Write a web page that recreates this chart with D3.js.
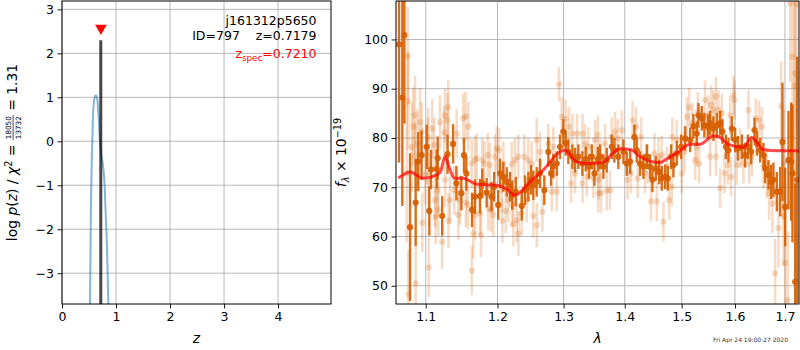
<!DOCTYPE html>
<html>
<head>
<meta charset="utf-8">
<script src="https://cdn.jsdelivr.net/npm/d3@7"></script>
<style>
  body { margin: 0; background: #fff; }
  svg { font-family: "DejaVu Sans", sans-serif; }
</style>
</head>
<body>
<svg id="fig" width="800" height="350"></svg>
<script>
// ---------------- data ----------------
// redshift probability curve: z and log p(z)
const pzZ    = [0.505, 0.515, 0.525, 0.537, 0.547, 0.556, 0.565, 0.574, 0.590, 0.610, 0.630, 0.650, 0.665, 0.680, 0.695, 0.710, 0.730, 0.750, 0.770, 0.785, 0.800, 0.815, 0.830, 0.845, 0.860, 0.870];
const pzLogP = [-5.0, -4.0, -2.9, -1.33, -0.65, -0.2, 0.2, 0.56, 0.88, 1.02, 1.04, 0.98, 0.80, 0.50, 0.15, -0.12, -0.32, -0.47, -0.68, -0.92, -1.35, -1.85, -2.3, -3.0, -3.8, -4.3];
const zBest = 0.7179, zBestTop = 2.30;
const zSpec = 0.7210, zSpecMarkerY = 2.57;
const zDomain = [0, 4.98], logpDomain = [-3.70, 3.19];
const zTicks = [0, 1, 2, 3, 4];
const logpTicks = [-3, -2, -1, 0, 1, 2, 3];

// binned spectrum: [wavelength (micron), flux, error]
const binnedSpec = [
  [1.0650, 99.0, 24], [1.0693, 88.2, 22], [1.0719, 100.9, 18], [1.0793, 61.9, 15], [1.0867, 66.9, 8.8],
  [1.0901, 75.2, 6], [1.0945, 76.5, 5], [1.1013, 78.2, 4.5], [1.1048, 65.2, 5], [1.1071, 73.6, 4],
  [1.1148, 73.7, 4], [1.1161, 75.9, 4.4], [1.1222, 64.2, 4], [1.1295, 76.7, 4], [1.1371, 78.8, 4],
  [1.1417, 70.8, 3.5], [1.1486, 68.8, 3.5], [1.1522, 76.5, 3.5], [1.1555, 72.8, 3.5], [1.1635, 65.4, 3.5],
  [1.1677, 68.1, 3.5], [1.1748, 68.2, 3.5], [1.1781, 70.8, 3], [1.1843, 68.9, 3], [1.1914, 68.1, 3],
  [1.1952, 70.1, 3], [1.2010, 66.4, 3], [1.2036, 72.8, 3], [1.2085, 72.1, 3], [1.2135, 71.1, 3],
  [1.2183, 70.1, 3], [1.2217, 68.4, 3], [1.2268, 69.1, 3], [1.2358, 66.2, 3], [1.2406, 69.4, 3],
  [1.2457, 70.1, 3], [1.2497, 71.5, 3], [1.2532, 70.4, 3], [1.2583, 71.1, 3], [1.2634, 72.8, 3],
  [1.2700, 69.4, 3], [1.2762, 77.2, 3], [1.2804, 72.8, 2.5], [1.2840, 74.3, 2.5], [1.2893, 74.8, 2.5],
  [1.2944, 78.2, 2.5], [1.2996, 81.3, 2.5], [1.3034, 78.9, 2.5], [1.3075, 77.2, 2.5], [1.3139, 76.2, 2.5],
  [1.3182, 75.5, 2.5], [1.3235, 76.2, 2.5], [1.3300, 74.8, 2.5], [1.3354, 75.7, 2.5], [1.3408, 74.2, 2.5],
  [1.3452, 76.2, 2.5], [1.3495, 72.8, 2.5], [1.3550, 75.7, 2.5], [1.3587, 76.2, 2.5], [1.3642, 74.2, 2.5],
  [1.3698, 75.5, 2.5], [1.3781, 78.2, 2.5], [1.3825, 77.5, 2.5], [1.3892, 76.2, 2.5], [1.3977, 77.2, 2.5],
  [1.4034, 74.8, 2.5], [1.4091, 75.2, 2.5], [1.4164, 80.2, 2.5], [1.4205, 77.5, 2.5], [1.4263, 74.8, 2.5],
  [1.4320, 74.2, 2.5], [1.4379, 76.2, 2.5], [1.4437, 74.2, 2.5], [1.4477, 71.5, 2.5], [1.4537, 73.8, 2.5],
  [1.4595, 73.1, 2.5], [1.4643, 71.8, 2.5], [1.4702, 72.1, 2.5], [1.4750, 71.8, 2.5], [1.4809, 76.2, 2.5],
  [1.4851, 74.5, 2.5], [1.4912, 76.9, 2.5], [1.4990, 78.2, 2.5], [1.5063, 79.9, 2.5], [1.5154, 79.6, 2.5],
  [1.5215, 82.4, 2.5], [1.5277, 80.9, 2.5], [1.5307, 84.6, 2.5], [1.5370, 84.0, 2.5], [1.5418, 82.6, 2.5],
  [1.5482, 82.3, 2.5], [1.5526, 83.0, 2.5], [1.5588, 81.9, 2.5], [1.5652, 82.6, 2.5], [1.5716, 83.0, 2.5],
  [1.5760, 81.3, 2.5], [1.5825, 78.2, 2.5], [1.5875, 77.5, 2.5], [1.5940, 81.9, 2.5], [1.6004, 79.6, 2.5],
  [1.6057, 77.9, 2.5], [1.6135, 78.2, 2.5], [1.6199, 76.5, 2.5], [1.6253, 78.2, 2.5], [1.6318, 77.2, 2.5],
  [1.6383, 81.6, 2.5], [1.6431, 78.9, 2.5], [1.6496, 77.5, 2.5], [1.6562, 76.5, 2.5], [1.6596, 73.8, 3],
  [1.6663, 72.5, 3], [1.6717, 71.1, 3.5], [1.6764, 71.5, 3.5], [1.6833, 69.1, 4], [1.6901, 69.1, 5],
  [1.6948, 79.2, 12], [1.7003, 66.0, 8], [1.7072, 75.5, 10], [1.7128, 75.2, 12], [1.7155, 72.8, 14],
  [1.7211, 50.8, 20], [1.7253, 71.5, 25]
];

// unbinned spectrum: [wavelength (micron), flux, error]
const rawSpec = [
  [1.0750, 72.8, 14], [1.0763, 96.6, 10], [1.0768, 87.5, 10], [1.0771, 48.3, 9], [1.0815, 78.2, 9],
  [1.0836, 82.3, 8], [1.0858, 84.6, 8], [1.0860, 76.2, 7], [1.0867, 50.5, 8], [1.0893, 78.8, 7],
  [1.0924, 83.2, 7], [1.0946, 81.3, 6], [1.0954, 62.8, 6], [1.0991, 72.5, 6], [1.1026, 78.2, 6],
  [1.1034, 80.1, 6], [1.1038, 71.1, 6], [1.1041, 53.7, 6], [1.1087, 81.9, 6], [1.1114, 78.6, 5.5],
  [1.1125, 67.4, 5.5], [1.1133, 64.0, 5.5], [1.1161, 69.4, 5.5], [1.1169, 65.5, 5.5], [1.1192, 83.2, 5.5],
  [1.1222, 58.9, 5.5], [1.1249, 81.1, 5.5], [1.1260, 84.6, 5.5], [1.1264, 71.5, 5.5], [1.1295, 83.6, 5.5],
  [1.1304, 86.2, 5.5], [1.1308, 63.2, 5.5], [1.1329, 67.4, 5], [1.1388, 69.4, 5], [1.1420, 80.9, 5],
  [1.1443, 64.4, 5], [1.1467, 67.4, 5], [1.1512, 84.0, 5], [1.1545, 84.4, 5], [1.1548, 66.9, 5],
  [1.1574, 66.4, 5], [1.1583, 82.3, 5], [1.1630, 74.8, 5], [1.1633, 53.1, 5], [1.1653, 60.6, 5],
  [1.1677, 75.5, 5], [1.1680, 64.4, 5], [1.1701, 75.9, 5], [1.1748, 64.7, 4.5], [1.1762, 60.3, 4.5],
  [1.1781, 75.5, 4.5], [1.1810, 74.8, 4.5], [1.1859, 76.5, 4.5], [1.1867, 65.7, 4.5], [1.1891, 74.5, 4.5],
  [1.1906, 65.4, 4.5], [1.1939, 64.4, 4.5], [1.1963, 76.2, 4.5], [1.1988, 77.9, 4.5], [1.2022, 77.5, 4.5],
  [1.2061, 69.4, 4.5], [1.2070, 63.2, 4.5], [1.2085, 74.8, 4.5], [1.2120, 65.2, 4.5], [1.2158, 67.4, 4.5],
  [1.2208, 74.7, 4.5], [1.2212, 66.4, 4.5], [1.2232, 62.5, 4.5], [1.2257, 75.5, 4.5], [1.2282, 63.3, 4.5],
  [1.2306, 76.2, 4.5], [1.2309, 60.6, 4.5], [1.2356, 64.7, 4.5], [1.2395, 76.2, 4.5], [1.2431, 67.4, 4.5],
  [1.2456, 75.5, 4.5], [1.2508, 74.8, 4.5], [1.2532, 64.2, 4.5], [1.2583, 79.6, 4.5], [1.2586, 62.3, 4.5],
  [1.2634, 77.2, 4], [1.2670, 65.0, 4], [1.2762, 78.9, 4], [1.2815, 69.1, 4], [1.2840, 78.2, 4],
  [1.2893, 69.1, 4], [1.2929, 90.9, 3.5], [1.2971, 84.3, 4], [1.3034, 83.8, 4], [1.3086, 82.3, 4],
  [1.3118, 70.8, 4], [1.3139, 80.9, 4], [1.3182, 72.8, 4], [1.3214, 80.9, 4], [1.3300, 80.9, 4],
  [1.3303, 70.8, 4], [1.3343, 78.8, 4], [1.3370, 72.1, 4], [1.3396, 78.2, 4], [1.3478, 71.8, 4],
  [1.3505, 79.6, 4], [1.3550, 80.6, 4], [1.3559, 68.8, 4], [1.3562, 71.5, 4], [1.3587, 75.9, 4],
  [1.3604, 68.8, 4], [1.3670, 78.9, 4], [1.3698, 69.3, 4], [1.3753, 69.4, 4], [1.3781, 80.2, 4],
  [1.3837, 81.3, 4], [1.3882, 79.9, 4], [1.3950, 81.6, 4], [1.4049, 71.5, 4], [1.4107, 72.8, 4],
  [1.4134, 83.6, 4], [1.4193, 82.3, 4], [1.4221, 71.8, 4], [1.4280, 80.2, 4], [1.4349, 72.8, 4],
  [1.4396, 74.8, 4], [1.4454, 67.1, 4], [1.4512, 76.9, 4], [1.4555, 67.1, 4], [1.4583, 76.2, 4],
  [1.4643, 76.5, 4], [1.4672, 63.0, 4], [1.4732, 74.2, 4], [1.4773, 67.4, 4], [1.4821, 70.1, 4],
  [1.4832, 80.2, 4], [1.4912, 79.6, 4], [1.5003, 72.8, 4], [1.5050, 77.2, 4], [1.5094, 84.3, 4],
  [1.5136, 86.2, 4], [1.5197, 83.1, 4], [1.5246, 75.5, 4], [1.5277, 78.2, 4], [1.5296, 85.3, 4],
  [1.5320, 74.8, 4], [1.5432, 87.7, 4], [1.5494, 84.6, 4], [1.5526, 76.2, 4], [1.5545, 86.7, 4],
  [1.5588, 85.7, 4], [1.5634, 88.4, 4], [1.5637, 76.2, 4], [1.5684, 85.7, 4], [1.5716, 69.8, 4],
  [1.5748, 85.0, 4], [1.5798, 72.8, 4], [1.5863, 74.5, 4], [1.5907, 84.6, 4], [1.5926, 72.1, 4],
  [1.5971, 88.7, 4], [1.5991, 87.7, 4], [1.6037, 74.5, 4], [1.6101, 77.9, 4], [1.6166, 74.8, 4],
  [1.6264, 85.7, 4], [1.6278, 74.8, 4], [1.6332, 76.2, 4], [1.6411, 84.0, 4], [1.6476, 83.6, 4],
  [1.6530, 82.3, 4], [1.6562, 74.2, 4.5], [1.6630, 72.8, 5], [1.6677, 68.8, 5.5], [1.6744, 66.7, 6],
  [1.6799, 52.5, 7], [1.6867, 61.7, 8], [1.6922, 86.5, 9], [1.6969, 64.0, 10], [1.6972, 74.8, 11],
  [1.7003, 54.6, 12], [1.7059, 47.1, 14], [1.7107, 107.3, 16], [1.7155, 96.5, 18], [1.7197, 90.7, 20],
  [1.7211, 93.1, 22], [1.7246, 107.2, 25]
];

// best-fit template: [wavelength (micron), flux]
const modelSpec = [
  [1.0640, 71.9], [1.0663, 72.1], [1.0793, 73.1], [1.0970, 71.8], [1.1148, 72.5], [1.1200, 73.2],
  [1.1260, 76.2], [1.1330, 73.5], [1.1390, 71.8], [1.1510, 71.8], [1.1700, 70.6], [1.1986, 70.4],
  [1.2134, 69.6], [1.2254, 68.4], [1.2482, 71.1], [1.2684, 73.5], [1.2944, 77.2], [1.3020, 77.5],
  [1.3208, 75.2], [1.3370, 74.8], [1.3640, 75.0], [1.3781, 76.7], [1.3922, 77.8], [1.4109, 77.6],
  [1.4253, 76.3], [1.4611, 75.0], [1.4711, 75.6], [1.4948, 77.2], [1.5151, 78.7], [1.5335, 78.7],
  [1.5585, 80.4], [1.5680, 80.3], [1.5872, 78.7], [1.6163, 78.1], [1.6328, 80.1], [1.6568, 77.6],
  [1.6850, 77.4], [1.7244, 77.4], [1.7300, 77.3]
];
const lamDomain = [1.0611, 1.7291], fluxDomain = [46.3, 107.8];
const lamTicks = [1.1, 1.2, 1.3, 1.4, 1.5, 1.6, 1.7];
const fluxTicks = [50, 60, 70, 80, 90, 100];

const objName = "j161312p5650";
const objLine = "ID=797    z=0.7179";
const zSpecText = "=0.7210";
const chi2Num = "18050", chi2Den = "13732", chi2Red = "1.31";
const stamp = "Fri Apr 24 19:00:27 2020";

// ---------------- drawing ----------------
const svg = d3.select("#fig");
const GRID = "#b0b0b0";
const ORANGE = "#d55e00";
const TICK_FS = 12.5, LABEL_FS = 13.9;

function styleAxis(g) {
  g.select(".domain").remove();
  g.selectAll(".tick line").attr("stroke", "#000").attr("stroke-width", 0.9);
  g.selectAll(".tick text").attr("fill", "#000").attr("font-size", TICK_FS)
    .attr("font-family", "DejaVu Sans, sans-serif");
}

function grid(g, xs, ys, xTicks, yTicks, box) {
  g.selectAll(".gx").data(xTicks).join("line").attr("class", "gx")
    .attr("x1", d => xs(d)).attr("x2", d => xs(d)).attr("y1", box.top).attr("y2", box.bottom)
    .attr("stroke", GRID).attr("stroke-width", 0.9);
  g.selectAll(".gy").data(yTicks).join("line").attr("class", "gy")
    .attr("y1", d => ys(d)).attr("y2", d => ys(d)).attr("x1", box.left).attr("x2", box.right)
    .attr("stroke", GRID).attr("stroke-width", 0.9);
}

// lays out a run of text pieces along a baseline; returns group and width
function mathRun(parent, pieces, fs, fill) {
  const g = parent.append("g");
  let x = 0;
  pieces.forEach(p => {
    if (p.frac) {
      const sfs = fs * 0.52;
      const a = g.append("text").attr("font-size", sfs).attr("fill", fill).text(p.frac[0]);
      const b = g.append("text").attr("font-size", sfs).attr("fill", fill).text(p.frac[1]);
      const w = Math.max(a.node().getComputedTextLength(), b.node().getComputedTextLength()) + 2;
      a.attr("x", x + w / 2).attr("text-anchor", "middle").attr("y", -5.8);
      b.attr("x", x + w / 2).attr("text-anchor", "middle").attr("y", 3.6);
      g.append("line").attr("x1", x).attr("x2", x + w).attr("y1", -3.9).attr("y2", -3.9)
        .attr("stroke", fill).attr("stroke-width", 0.7);
      x += w;
      return;
    }
    const t = g.append("text")
      .attr("x", x).attr("y", p.shift || 0)
      .attr("font-size", fs * (p.scale || 1))
      .attr("font-style", p.italic ? "italic" : "normal")
      .attr("fill", fill)
      .style("white-space", "pre")
      .text(p.t);
    x += t.node().getComputedTextLength();
  });
  return { g, width: x };
}

// ===== p(z) panel =====
const boxL = { left: 62, right: 331, top: 1, bottom: 304 };
const xZ = d3.scaleLinear().domain(zDomain).range([boxL.left, boxL.right]);
const yZ = d3.scaleLinear().domain(logpDomain).range([boxL.bottom, boxL.top]);

svg.append("clipPath").attr("id", "clipL").append("rect")
  .attr("x", boxL.left).attr("y", boxL.top)
  .attr("width", boxL.right - boxL.left).attr("height", boxL.bottom - boxL.top);

const gL = svg.append("g");
grid(gL.append("g"), xZ, yZ, zTicks, logpTicks, boxL);

const plotL = gL.append("g").attr("clip-path", "url(#clipL)");
plotL.append("path")
  .datum(d3.zip(pzZ, pzLogP))
  .attr("d", d3.line().x(d => xZ(d[0])).y(d => yZ(d[1])).curve(d3.curveCatmullRom))
  .attr("fill", "none").attr("stroke", "#1f77b4").attr("stroke-opacity", 0.55).attr("stroke-width", 2);
plotL.append("line")
  .attr("x1", xZ(zBest)).attr("x2", xZ(zBest))
  .attr("y1", yZ(logpDomain[0]) + 2).attr("y2", yZ(zBestTop))
  .attr("stroke", "#000").attr("stroke-opacity", 0.72).attr("stroke-width", 3);
plotL.append("path")
  .attr("d", d3.symbol().type(d3.symbolTriangle).size(60))
  .attr("transform", `translate(${xZ(zSpec)},${yZ(zSpecMarkerY)}) rotate(180)`)
  .attr("fill", "#ff0000");

gL.append("g").attr("transform", `translate(0,${boxL.bottom})`)
  .call(d3.axisBottom(xZ).tickValues(zTicks).tickFormat(d3.format("d")).tickSize(4.5).tickPadding(3.5))
  .call(styleAxis);
gL.append("g").attr("transform", `translate(${boxL.left},0)`)
  .call(d3.axisLeft(yZ).tickValues(logpTicks).tickFormat(d3.format("d")).tickSize(4.5).tickPadding(3.5))
  .call(styleAxis);
gL.append("rect").attr("x", boxL.left).attr("y", boxL.top)
  .attr("width", boxL.right - boxL.left).attr("height", boxL.bottom - boxL.top)
  .attr("fill", "none").attr("stroke", "#000").attr("stroke-width", 1);

// annotation block
gL.append("text").attr("x", 316.5).attr("y", 24.5).attr("text-anchor", "end")
  .attr("font-size", TICK_FS).text(objName);
gL.append("text").attr("x", 316.5).attr("y", 39.5).attr("text-anchor", "end")
  .attr("font-size", TICK_FS).style("white-space", "pre").text(objLine);
{
  const run = mathRun(gL, [
    { t: "z", italic: false },
    { t: "spec", scale: 0.7, shift: 2.8 },
    { t: zSpecText }
  ], TICK_FS, "#ff0000");
  run.g.attr("transform", `translate(${316.5 - run.width},58)`);
}

// axis labels
gL.append("text").attr("x", (boxL.left + boxL.right) / 2).attr("y", 343)
  .attr("text-anchor", "middle").attr("font-size", LABEL_FS).attr("font-style", "italic").text("z");
{
  const run = mathRun(svg, [
    { t: "log " }, { t: "p", italic: true }, { t: "(" }, { t: "z", italic: true }, { t: ") / " },
    { t: "χ", italic: true }, { t: "2", scale: 0.7, shift: -5.5 }, { t: " = " },
    { frac: [chi2Num, chi2Den] }, { t: " = " + chi2Red }
  ], LABEL_FS, "#000");
  run.g.attr("transform", `translate(17,${(boxL.top + boxL.bottom) / 2 + run.width / 2}) rotate(-90)`);
}

// ===== spectrum panel =====
const boxR = { left: 396, right: 799, top: 1, bottom: 304 };
const xL = d3.scaleLog().domain(lamDomain).range([boxR.left, boxR.right]);
const yF = d3.scaleLinear().domain(fluxDomain).range([boxR.bottom, boxR.top]);

svg.append("clipPath").attr("id", "clipR").append("rect")
  .attr("x", boxR.left).attr("y", boxR.top)
  .attr("width", boxR.right - boxR.left).attr("height", boxR.bottom - boxR.top);

const gR = svg.append("g");
grid(gR.append("g"), xL, yF, lamTicks, fluxTicks, boxR);
const plotR = gR.append("g").attr("clip-path", "url(#clipR)");

function errorSeries(g, rows, opacity, barW, r) {
  g.append("g").selectAll("line").data(rows).join("line")
    .attr("x1", d => xL(d[0])).attr("x2", d => xL(d[0]))
    .attr("y1", d => yF(d[1] - d[2])).attr("y2", d => yF(d[1] + d[2]))
    .attr("stroke", ORANGE).attr("stroke-opacity", opacity).attr("stroke-width", barW);
  g.append("g").selectAll("circle").data(rows).join("circle")
    .attr("cx", d => xL(d[0])).attr("cy", d => yF(d[1])).attr("r", r)
    .attr("fill", ORANGE).attr("fill-opacity", opacity);
}
errorSeries(plotR, rawSpec, 0.22, 2.6, 3.1);
errorSeries(plotR, binnedSpec, 0.9, 2.4, 3.1);

plotR.append("path").datum(modelSpec)
  .attr("d", d3.line().x(d => xL(d[0])).y(d => yF(d[1])).curve(d3.curveMonotoneX))
  .attr("fill", "none").attr("stroke", "#ff0000").attr("stroke-opacity", 0.7)
  .attr("stroke-width", 3).attr("stroke-linejoin", "round");

gR.append("g").attr("transform", `translate(0,${boxR.bottom})`)
  .call(d3.axisBottom(xL).tickValues(lamTicks).tickFormat(d3.format(".1f")).tickSize(4.5).tickPadding(3.5))
  .call(styleAxis);
gR.append("g").attr("transform", `translate(${boxR.left},0)`)
  .call(d3.axisLeft(yF).tickValues(fluxTicks).tickFormat(d3.format("d")).tickSize(4.5).tickPadding(3.5))
  .call(styleAxis);
gR.append("rect").attr("x", boxR.left).attr("y", boxR.top)
  .attr("width", boxR.right - boxR.left).attr("height", boxR.bottom - boxR.top)
  .attr("fill", "none").attr("stroke", "#000").attr("stroke-width", 1);

gR.append("text").attr("x", (boxR.left + boxR.right) / 2).attr("y", 343)
  .attr("text-anchor", "middle").attr("font-size", LABEL_FS).attr("font-style", "italic").text("λ");
{
  const run = mathRun(svg, [
    { t: "f", italic: true }, { t: "λ", italic: true, scale: 0.7, shift: 3 },
    { t: " × 10" }, { t: "−19", scale: 0.7, shift: -5.5 }
  ], LABEL_FS, "#000");
  run.g.attr("transform", `translate(346,${(boxR.top + boxR.bottom) / 2 + run.width / 2}) rotate(-90)`);
}

svg.append("text").attr("x", 788).attr("y", 342).attr("text-anchor", "end")
  .attr("font-size", 6).attr("fill", "#333").text(stamp);
</script>
</body>
</html>
